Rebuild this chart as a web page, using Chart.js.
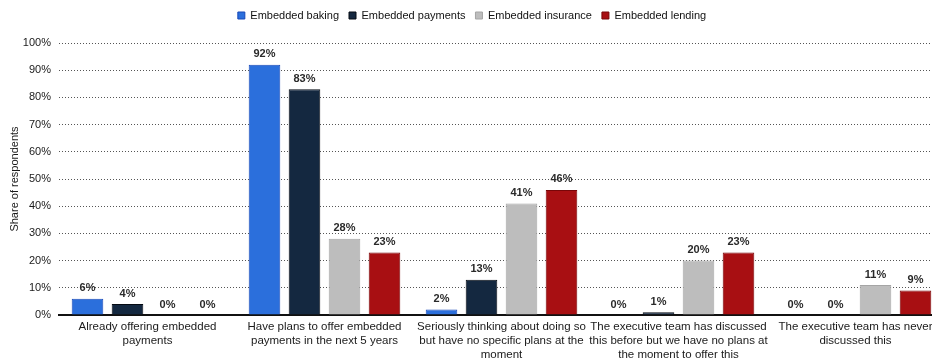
<!DOCTYPE html>
<html>
<head>
<meta charset="utf-8">
<script src="https://cdn.jsdelivr.net/npm/chart.js@4.4.0/dist/chart.umd.min.js"></script>
<style>
html,body{margin:0;padding:0;overflow:hidden;background:#fff;}
canvas{display:block;}
</style>
</head>
<body>
<canvas id="c" width="950" height="361"></canvas>
<script>
const categories = [
  ["Already offering embedded", "payments"],
  ["Have plans to offer embedded", "payments in the next 5 years"],
  ["Seriously thinking about doing so", "but have no specific plans at the", "moment"],
  ["The executive team has discussed", "this before but we have no plans at", "the moment to offer this"],
  ["The executive team has never", "discussed this"]
];
const seriesNames = ["Embedded baking", "Embedded payments", "Embedded insurance", "Embedded lending"];
const baking    = [6, 92, 2, 0, 0];
const payments  = [4, 83, 13, 1, 0];
const insurance = [0, 28, 41, 20, 11];
const lending   = [0, 23, 46, 23, 9];
const yTicks = [0, 10, 20, 30, 40, 50, 60, 70, 80, 90, 100];

const fills   = ["#2b6fdc", "#142840", "#bdbdbd", "#a80f12"];
const borders = ["#1848b8", "#050a12", "#a5a5a5", "#780608"];
const values = [baking, payments, insurance, lending];

const dataLabels = {
  id: 'dataLabels',
  afterDatasetsDraw(chart) {
    const ctx = chart.ctx;
    ctx.save();
    ctx.font = 'bold 11px "Liberation Sans", Arial, sans-serif';
    ctx.fillStyle = '#2a2a2a';
    ctx.textAlign = 'center';
    ctx.textBaseline = 'bottom';
    chart.data.datasets.forEach((ds, i) => {
      const meta = chart.getDatasetMeta(i);
      meta.data.forEach((el, j) => {
        ctx.fillText(ds.data[j] + '%', el.x, el.y - 5);
      });
    });
    ctx.restore();
  }
};

const legendHeight = {
  id: 'legendHeight',
  beforeInit(chart) {
    const orig = chart.legend.fit;
    chart.legend.fit = function () {
      orig.call(this);
      this.height = 43;
    };
  }
};

new Chart(document.getElementById('c'), {
  type: 'bar',
  data: {
    labels: categories,
    datasets: values.map((v, i) => ({
      label: seriesNames[i],
      data: v,
      backgroundColor: fills[i],
      borderColor: borders[i],
      borderWidth: 1,
      barPercentage: 0.79,
      categoryPercentage: 0.904
    }))
  },
  options: {
    responsive: false,
    animation: false,
    layout: { padding: { left: 0, right: 6, top: 0, bottom: 0 } },
    plugins: {
      legend: {
        position: 'top',
        labels: {
          boxWidth: 7,
          boxHeight: 7,
          padding: 10,
          color: '#111',
          font: { family: '"Liberation Sans", Arial, sans-serif', size: 11 }
        }
      },
      tooltip: { enabled: false }
    },
    scales: {
      x: {
        grid: { display: false, drawTicks: false },
        border: { display: true, color: '#111', width: 2 },
        ticks: {
          color: '#1a1a1a',
          padding: 5,
          maxRotation: 0,
          autoSkip: false,
          font: { family: '"Liberation Sans", Arial, sans-serif', size: 11.5, lineHeight: 1.22 }
        },
        afterFit(scale) { scale.height = 46; }
      },
      y: {
        min: 0,
        max: 100,
        afterBuildTicks(scale) { scale.ticks = yTicks.map(v => ({ value: v })); },
        grid: { color: '#555', drawTicks: false, lineWidth: 1 },
        border: { display: false, dash: [1, 2] },
        ticks: {
          color: '#1a1a1a',
          padding: 8,
          font: { family: '"Liberation Sans", Arial, sans-serif', size: 11 },
          callback: v => v + '%'
        },
        title: {
          display: true,
          text: 'Share of respondents',
          color: '#1a1a1a',
          padding: { top: 8, bottom: 0 },
          font: { family: '"Liberation Sans", Arial, sans-serif', size: 11 }
        },
        afterFit(scale) { scale.width = 59; }
      }
    }
  },
  plugins: [dataLabels, legendHeight]
});
</script>
</body>
</html>
